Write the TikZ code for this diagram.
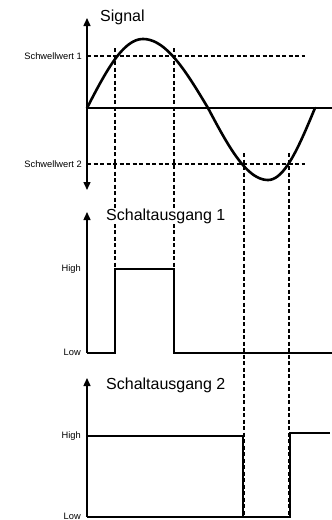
\documentclass[tikz,border=0pt]{standalone}
\usepackage{fontspec}
\setmainfont{Liberation Sans}
\usetikzlibrary{arrows.meta}
\begin{document}
\begin{tikzpicture}[x=1pt,y=-1pt,
  axisline/.style={line width=1.4pt},
  tipstyle/.style={-{Triangle[width=7pt,length=8pt]}},
  dashline/.style={line width=1.4pt, dash pattern=on 4pt off 2.5pt},
  sigline/.style={line width=2.6pt, line join=round, line cap=round},
  pulseline/.style={line width=2pt, line join=miter},
  title/.style={font=\fontsize{16}{18}\selectfont, anchor=west, inner sep=1pt, fill=white},
  small/.style={font=\fontsize{9.3}{10}\selectfont, anchor=east, inner sep=0pt}]
\useasboundingbox (0,0) rectangle (332,520);

% ---------- top panel: signal ----------
\coordinate (o1) at (87,108);
\coordinate (a1top) at (87,18);
\coordinate (a1bot) at (87,190);
\coordinate (z1end) at (332,108);
\draw[axisline,{Triangle[width=7pt,length=8pt]}-{Triangle[width=7pt,length=8pt]}] (a1bot) -- (a1top);
\draw[line width=1.6pt] (o1) -- (z1end);
\node[title, fill=none] (sig) at (99,17) {Signal};

\node[small] (s1) at (82,56) {Schwellwert 1};
\node[small] (s2) at (82,164) {Schwellwert 2};
\coordinate (s1end) at (305,56);
\coordinate (s2end) at (305,164);
\draw[dashline] (87,56) -- (s1end);
\draw[dashline] (87,164) -- (s2end);

% sine-like signal, piecewise quarter waves
\draw[sigline]
  plot[domain=0:1,samples=30,variable=\t] ({87+56*\t},{108-69*sin(90*\t)})
  -- plot[domain=0:1,samples=30,variable=\t] ({143+65*\t},{108-69*cos(90*\t)})
  -- plot[domain=0:1,samples=30,variable=\t] ({208+60*\t},{108+72*sin(90*\t)})
  -- plot[domain=0:1,samples=30,variable=\t] ({268+47*\t},{108+72*cos(90*\t)});

% ---------- vertical dashed guides ----------
\coordinate (v1t) at (115,48);  \coordinate (v1b) at (115,269);
\coordinate (v2t) at (174,48);  \coordinate (v2b) at (174,269);
\coordinate (v3t) at (244,153); \coordinate (v3b) at (244,518);
\coordinate (v4t) at (289,153); \coordinate (v4b) at (289,518);
\draw[dashline] (v1t) -- (v1b);
\draw[dashline] (v2t) -- (v2b);
\draw[dashline] (v3t) -- (v3b);
\draw[dashline] (v4t) -- (v4b);

% ---------- middle panel: Schaltausgang 1 ----------
\coordinate (a2top) at (87,212);
\coordinate (o2) at (87,353);
\draw[axisline,tipstyle] (o2) -- (a2top);
\node[title] (t1) at (105,216) {Schaltausgang 1};
\node[small] (h1) at (81,269) {High};
\node[small] (l1) at (81,352) {Low};
\coordinate (p1a) at (115,353);
\coordinate (p1b) at (115,269);
\coordinate (p1c) at (174,269);
\coordinate (p1d) at (174,353);
\coordinate (p1e) at (332,353);
\draw[pulseline] (o2) -- (p1a) -- (p1b) -- (p1c) -- (p1d) -- (p1e);

% ---------- bottom panel: Schaltausgang 2 ----------
\coordinate (a3top) at (87,378);
\coordinate (o3) at (87,517);
\draw[axisline,tipstyle] (o3) -- (a3top);
\node[title] (t2) at (105,385) {Schaltausgang 2};
\node[small] (h2) at (81,436) {High};
\node[small] (l2) at (81,516) {Low};
\coordinate (q0) at (87,436);
\coordinate (q1) at (243,436);
\coordinate (q2) at (243,517);
\coordinate (q3) at (290,517);
\coordinate (q4) at (290,433);
\coordinate (q5) at (330,433);
\draw[line width=1.4pt] (o3) -- (q2);
\draw[pulseline] (q0) -- (q1) -- (q2) -- (q3) -- (q4) -- (q5);
\end{tikzpicture}
\end{document}
